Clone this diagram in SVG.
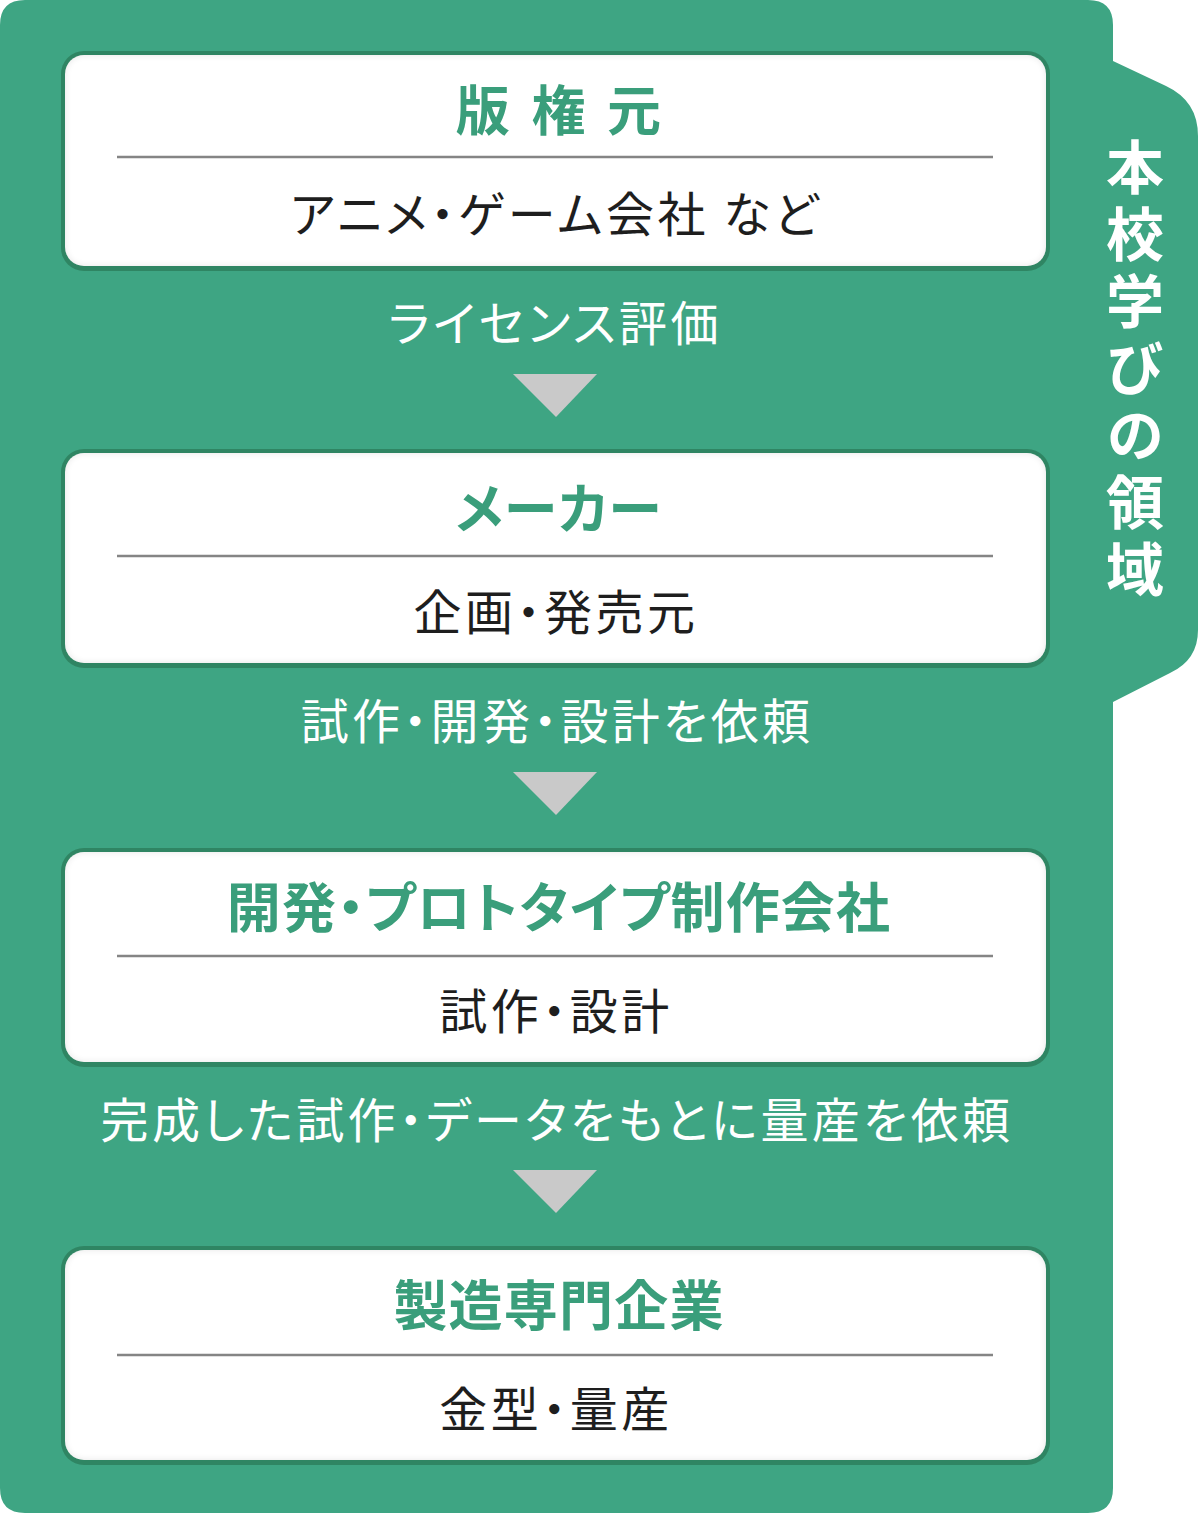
<svg xmlns="http://www.w3.org/2000/svg" width="1200" height="1516" viewBox="0 0 1200 1516">
<style>
text{font-feature-settings:"palt" 1}
.title{font-family:"Noto Sans CJK JP","Noto Sans",sans-serif;font-weight:700;font-size:54px;fill:#3a9e7b;text-anchor:middle;letter-spacing:1.2px}
.sub{font-family:"Noto Sans CJK JP","Noto Sans",sans-serif;font-weight:400;font-size:48px;fill:#1e1e1e;text-anchor:middle;letter-spacing:3.5px}
.lbl{font-family:"Noto Sans CJK JP","Noto Sans",sans-serif;font-weight:400;font-size:48px;fill:#ffffff;text-anchor:middle;letter-spacing:3.3px}
.side{font-family:"Noto Sans CJK JP","Noto Sans",sans-serif;font-weight:700;font-size:58px;fill:#ffffff;text-anchor:middle;writing-mode:vertical-rl;letter-spacing:9px;font-feature-settings:normal}
.frame{fill:#2f8563}
.inner{fill:#ffffff}
.div{stroke:#858585;stroke-width:2.5}
.arrow{fill:#c9c9c9}
</style>
<defs>
<filter id="innerShadow" x="-5%" y="-5%" width="110%" height="110%">
<feFlood flood-color="#000" flood-opacity="0.22" result="f"/>
<feComposite in="f" in2="SourceAlpha" operator="out" result="o"/>
<feGaussianBlur in="o" stdDeviation="3" result="b"/>
<feComposite in="b" in2="SourceAlpha" operator="in" result="s"/>
<feMerge><feMergeNode in="SourceGraphic"/><feMergeNode in="s"/></feMerge>
</filter>
</defs>
<g id="background">
<path d="M25 0 H1088 Q1113 0 1113 25 V61 L1166 86 Q1198 101 1198 136 V630 Q1198 660 1170 673 L1113 702 V1488 Q1113 1513 1088 1513 H25 Q0 1513 0 1488 V25 Q0 0 25 0 Z" fill="#3ea583"/>
</g>
<g id="side-label">
<text class="side" x="1135" y="372">本校学びの領域</text>
</g>
<g id="node-1">
<rect class="frame" x="61" y="51" width="989" height="220" rx="23"/>
<rect class="inner" x="65" y="55" width="981" height="211" rx="19" filter="url(#innerShadow)"/>
<line class="div" x1="117" y1="157" x2="993" y2="157"/>
<text class="title" x="559" y="131"><tspan>版 </tspan><tspan dx="7">権 </tspan><tspan dx="7">元</tspan></text>
<text class="sub" x="556" y="232">アニメ・ゲーム会社 など</text>
</g>
<g id="node-2">
<rect class="frame" x="61" y="449" width="989" height="219" rx="23"/>
<rect class="inner" x="65" y="453" width="981" height="210" rx="19" filter="url(#innerShadow)"/>
<line class="div" x1="117" y1="556" x2="993" y2="556"/>
<text class="title" x="559" y="529">メーカー</text>
<text class="sub" x="556" y="630">企画・発売元</text>
</g>
<g id="node-3">
<rect class="frame" x="61" y="848" width="989" height="219" rx="23"/>
<rect class="inner" x="65" y="852" width="981" height="210" rx="19" filter="url(#innerShadow)"/>
<line class="div" x1="117" y1="956" x2="993" y2="956"/>
<text class="title" x="559" y="928">開発・プロトタイプ制作会社</text>
<text class="sub" x="556" y="1029">試作・設計</text>
</g>
<g id="node-4">
<rect class="frame" x="61" y="1246" width="989" height="219" rx="23"/>
<rect class="inner" x="65" y="1250" width="981" height="210" rx="19" filter="url(#innerShadow)"/>
<line class="div" x1="117" y1="1355" x2="993" y2="1355"/>
<text class="title" x="559" y="1326">製造専門企業</text>
<text class="sub" x="556" y="1427">金型・量産</text>
</g>
<g id="connectors">
<text class="lbl" x="555" y="341">ライセンス評価</text>
<polygon class="arrow" points="513,374 597,374 556,417"/>
<text class="lbl" x="557" y="739">試作・開発・設計を依頼</text>
<polygon class="arrow" points="513,772 597,772 556,815"/>
<text class="lbl" x="557" y="1138">完成した試作・データをもとに量産を依頼</text>
<polygon class="arrow" points="513,1170 597,1170 556,1213"/>
</g>
</svg>
